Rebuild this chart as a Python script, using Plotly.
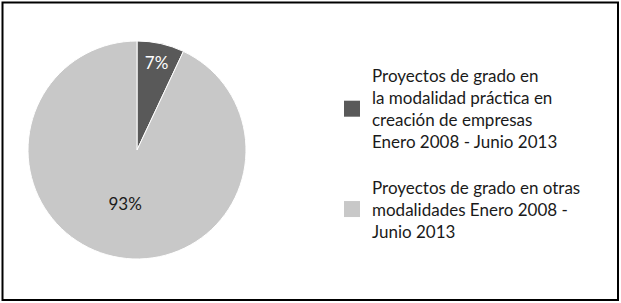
import plotly.graph_objects as go

labels = [
    "Proyectos de grado en<br>la modalidad práctica en<br>creación de empresas<br>Enero 2008 - Junio 2013",
    "Proyectos de grado en otras<br>modalidades Enero 2008 -<br>Junio 2013",
]
values = [7, 93]
colors = ["#595959", "#c8c8c8"]
text_colors = ["#ffffff", "#1a1a1a"]

W, H = 621, 303
FONT = "Lato"

fig = go.Figure()
fig.add_trace(go.Pie(
    labels=labels, values=values, sort=False, direction="clockwise", rotation=0,
    marker=dict(colors=colors, line=dict(color="white", width=1)),
    textinfo="percent", texttemplate="%{percent:.0%}",
    textposition="inside", insidetextorientation="horizontal",
    insidetextfont=dict(color=text_colors, size=17, family=FONT),
    showlegend=False, hoverinfo="label+percent",
    domain=dict(x=[28 / W, 246 / W], y=[(H - 259) / H, (H - 41) / H]),
))

# legend entries (one group per slice so the gap can be controlled)
for i, (lab, col) in enumerate(zip(labels, colors)):
    fig.add_trace(go.Scatter(
        x=[None], y=[None], mode="markers", name=lab,
        marker=dict(symbol="square", size=16, color=col),
        legendgroup=f"g{i}", showlegend=True, hoverinfo="skip",
    ))

fig.update_layout(
    width=W, height=H,
    margin=dict(l=0, r=0, t=0, b=0),
    paper_bgcolor="white", plot_bgcolor="white",
    xaxis=dict(visible=False), yaxis=dict(visible=False),
    font=dict(family=FONT, size=17, color="#1a1a1a"),
    legend=dict(
        x=332 / W, y=(H - 58) / H, xanchor="left", yanchor="top",
        tracegroupgap=20, traceorder="grouped", valign="middle",
        bgcolor="rgba(0,0,0,0)", font=dict(family=FONT, size=17, color="#1a1a1a"),
    ),
    shapes=[dict(type="rect", xref="paper", yref="paper",
                 x0=2.5 / W, x1=(W - 3) / W, y0=3 / H, y1=(H - 2.5) / H,
                 line=dict(color="black", width=2), layer="above")],
)

fig.write_html("out.html", config={"displayModeBar": False},
               post_script="document.body.style.margin='0';")
